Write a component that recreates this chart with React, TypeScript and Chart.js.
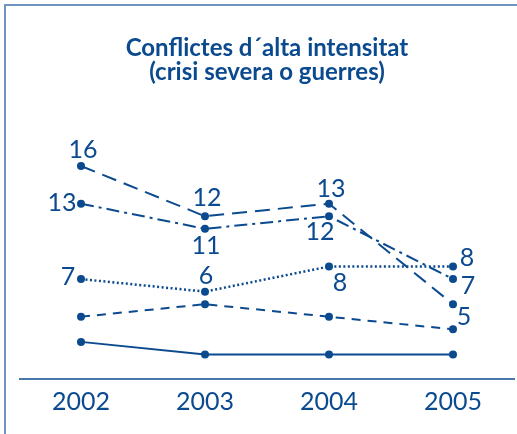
import React, { useEffect, useRef } from "react";
import { Chart, registerables } from "chart.js";

Chart.register(...registerables);

const years = ["2002", "2003", "2004", "2005"];
const seriesLongDash = [16, 12, 13, 5];
const seriesDashDot = [13, 11, 12, 7];
const seriesDotted = [7, 6, 8, 8];
const seriesShortDash = [4, 5, 4, 3];
const seriesSolid = [2, 1, 1, 1];
const titleLines = ["Conflictes d´alta intensitat", "(crisi severa o guerres)"];

const BLUE = "#0b4a8f";
const FRAME = "#7094c0";
const FONT = "Lato, 'DejaVu Sans', sans-serif";

// label offsets (dx, dy from point to label centre); null = no label
const labelOffsets: (number[] | null)[][] = [
  [[2, -17], [2, -19], [2, -16], [11, 12]],
  [[-19, -2], [1, 16], [-9, 15], [15, 6]],
  [[-13, -3], [1, -17], [11, 15], [14, -10]],
  [null, null, null, null],
  [null, null, null, null],
];

const framePlugin = {
  id: "frame",
  beforeDraw(chart: any) {
    const ctx = chart.ctx;
    ctx.save();
    ctx.strokeStyle = FRAME;
    ctx.lineWidth = 2;
    ctx.beginPath();
    ctx.moveTo(5, 434);
    ctx.lineTo(5, 5);
    ctx.lineTo(517, 5);
    ctx.stroke();
    ctx.strokeStyle = BLUE;
    ctx.lineWidth = 1.5;
    ctx.beginPath();
    ctx.moveTo(19, 379);
    ctx.lineTo(515, 379);
    ctx.stroke();
    ctx.restore();
  },
};

const labelPlugin = {
  id: "pointLabels",
  afterDatasetsDraw(chart: any) {
    const ctx = chart.ctx;
    ctx.save();
    ctx.fillStyle = BLUE;
    ctx.font = `400 25px ${FONT}`;
    ctx.textAlign = "center";
    ctx.textBaseline = "alphabetic";
    chart.data.datasets.forEach((ds: any, di: number) => {
      const meta = chart.getDatasetMeta(di);
      meta.data.forEach((pt: any, i: number) => {
        const off = labelOffsets[di][i];
        if (!off) return;
        ctx.fillText(String(ds.data[i]), pt.x + off[0], pt.y + off[1] + 9);
      });
    });
    ctx.restore();
  },
};

export default function App() {
  const ref = useRef<HTMLCanvasElement | null>(null);
  useEffect(() => {
    if (!ref.current) return;
    const mk = (data: number[], dash: number[], width = 2) => ({
      data,
      borderColor: BLUE,
      backgroundColor: BLUE,
      borderWidth: width,
      borderDash: dash,
      pointRadius: 4,
      pointBorderWidth: 0,
      pointBackgroundColor: BLUE,
      tension: 0,
      clip: false as any,
    });
    const chart = new Chart(ref.current, {
      type: "line",
      data: {
        labels: years,
        datasets: [
          mk(seriesLongDash, [15, 8]),
          mk(seriesDashDot, [13, 5, 3, 5]),
          mk(seriesDotted, [2, 2.5], 2.5),
          mk(seriesShortDash, [9, 7]),
          mk(seriesSolid, []),
        ],
      },
      options: {
        animation: false,
        responsive: false,
        devicePixelRatio: 1,
        layout: { padding: { left: 81, right: 64, top: 0, bottom: 0 } },
        plugins: {
          legend: { display: false },
          tooltip: { enabled: false },
          title: {
            display: true,
            text: titleLines,
            color: BLUE,
            font: { family: FONT, size: 24, weight: "bold", lineHeight: 1.0 },
            padding: { top: 36, bottom: 82 },
          },
        },
        scales: {
          x: {
            type: "category",
            offset: false,
            grid: { display: false, drawTicks: false },
            border: { display: false },
            ticks: {
              color: BLUE,
              font: { family: FONT, size: 25, weight: "400", lineHeight: 1.2 },
              padding: 20,
              maxRotation: 0,
            },
            afterFit: (scale: any) => {
              scale.height = 67;
            },
          },
          y: { display: false, min: 0, max: 16 },
        },
      },
      plugins: [framePlugin, labelPlugin],
    });
    return () => chart.destroy();
  }, []);
  return (
    <div style={{ position: "absolute", left: 0, top: 0, width: 517, height: 434, background: "#fff" }}>
      <canvas ref={ref} width={517} height={434} style={{ width: 517, height: 434, display: "block" }} />
    </div>
  );
}
